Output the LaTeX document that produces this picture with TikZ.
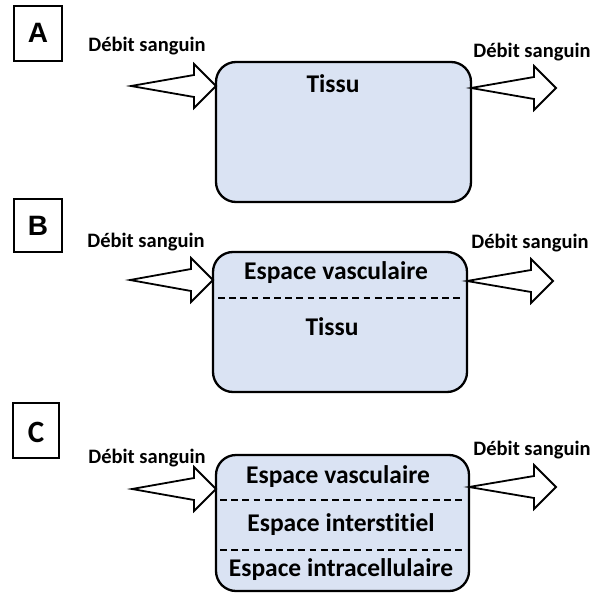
\documentclass[tikz,border=0pt]{standalone}
\usepackage{fontspec}
\setmainfont{Carlito}[Ligatures={NoCommon}]
\newfontfamily\arialfont{Liberation Sans}
\usetikzlibrary{calc}
\definecolor{boxfill}{HTML}{DAE3F3}
\tikzset{
  tbox/.style={draw=black, line width=2.3pt, fill=boxfill, rounded corners=20pt, inner sep=0pt, outer sep=0pt, anchor=north west},
  lbl/.style={draw=black, line width=1.3pt, fill=white, inner sep=0pt, outer sep=0pt, anchor=north west},
  lettertxt/.style={font=\arialfont\bfseries\fontsize{28}{30}\selectfont, inner sep=0pt},
  flowtxt/.style={font=\bfseries\fontsize{20.5}{22}\selectfont, inner sep=0pt},
  intxt/.style={font=\bfseries\fontsize{25.5}{28}\selectfont, inner sep=0pt},
  barrow/.style={draw=black, line width=1.8pt, fill=white, line join=miter},
  sep/.style={draw=black, line width=1.5pt, dash pattern=on 6.7pt off 4.5pt},
}
\newcommand{\blockarr}[2]{%
  \draw[barrow] (#1) -- ($(#2)+(-22,-11)$) -- ($(#2)+(-22,-22)$) -- (#2)
    -- ($(#2)+(-22,22)$) -- ($(#2)+(-22,11)$) -- cycle;}
\begin{document}
\begin{tikzpicture}[x=1pt,y=-1pt]
\useasboundingbox (0,0) rectangle (590,593);
% ---------------- A ----------------
\node[lbl, minimum width=48pt, minimum height=55pt] (labA) at (14,6) {};
\node[lettertxt] (letA) at (38,33) {A};
\node[tbox, minimum width=255pt, minimum height=140pt] (boxA) at (216,62) {};
\node[intxt] (tA) at (333,84) {Tissu};
\node[flowtxt] (fAl) at (147,46) {Débit sanguin};
\node[flowtxt] (fAr) at (532,52) {Débit sanguin};
\coordinate (Ain) at (131,86);
\coordinate (Aintip) at (boxA.west |- Ain);
\coordinate (Aout) at (boxA.east |- 0,88);
\coordinate (Aouttip) at (556,88);
\blockarr{Ain}{Aintip}
\blockarr{Aout}{Aouttip}
% ---------------- B ----------------
\node[lbl, minimum width=48pt, minimum height=53pt] (labB) at (14,199) {};
\node[lettertxt] (letB) at (38,226) {B};
\node[tbox, minimum width=254pt, minimum height=140pt] (boxB) at (213,252) {};
\node[intxt] (vB) at (336,273) {Espace vasculaire};
\node[intxt] (tB) at (332,327) {Tissu};
\draw[sep] ($(boxB.west |- 0,298)+(5,0)$) coordinate (sB1) -- ($(boxB.east |- 0,298)+(-4,0)$) coordinate (sB2);
\node[flowtxt] (fBl) at (146,242) {Débit sanguin};
\node[flowtxt] (fBr) at (530,243) {Débit sanguin};
\coordinate (Bin) at (130,280);
\coordinate (Bintip) at (boxB.west |- Bin);
\coordinate (Bout) at (boxB.east |- 0,281);
\coordinate (Bouttip) at (553,281);
\blockarr{Bin}{Bintip}
\blockarr{Bout}{Bouttip}
% ---------------- C ----------------
\node[lbl, minimum width=46pt, minimum height=55pt] (labC) at (13,403) {};
\node[lettertxt, font=\bfseries\fontsize{31}{33}\selectfont] (letC) at (36,432) {C};
\node[tbox, minimum width=253pt, minimum height=136pt] (boxC) at (216,455) {};
\node[intxt] (vC) at (338,477) {Espace vasculaire};
\node[intxt] (iC) at (341,525) {Espace interstitiel};
\node[intxt] (cC) at (341,570) {Espace intracellulaire};
\draw[sep] ($(boxC.west |- 0,500)+(4,0)$) coordinate (sC1) -- ($(boxC.east |- 0,500)+(-4,0)$) coordinate (sC2);
\draw[sep] ($(boxC.west |- 0,550)+(4,0)$) coordinate (sC3) -- ($(boxC.east |- 0,550)+(-4,0)$) coordinate (sC4);
\node[flowtxt] (fCl) at (147,458) {Débit sanguin};
\node[flowtxt] (fCr) at (532,450) {Débit sanguin};
\coordinate (Cin) at (132,489);
\coordinate (Cintip) at (boxC.west |- Cin);
\coordinate (Cout) at (boxC.east |- 0,487);
\coordinate (Couttip) at (556,487);
\blockarr{Cin}{Cintip}
\blockarr{Cout}{Couttip}
\end{tikzpicture}
\end{document}
